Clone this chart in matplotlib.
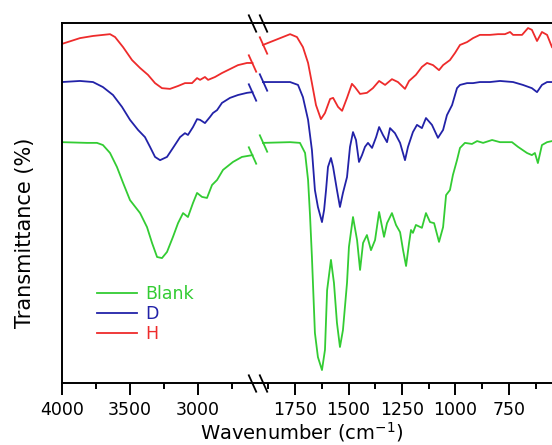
import matplotlib
matplotlib.use("Agg")
import matplotlib.pyplot as plt
from matplotlib.ticker import MultipleLocator, NullLocator

# ---------------- data (arbitrary transmittance units) ----------------
# high wavenumber segment (4000 - 2600 cm-1)
blank_wn_hi = [4000, 3816, 3743, 3699, 3647, 3596, 3551, 3500, 3426, 3375, 3338, 3301, 3265, 3228,
               3184, 3147, 3110, 3074, 3037, 3007, 2971, 2934, 2897, 2860, 2816, 2743, 2677, 2600]
blank_t_hi = [66.9, 66.7, 66.7, 66.1, 63.9, 60.0, 55.6, 50.8, 47.2, 43.3, 38.9, 35.0, 34.7, 36.4,
              40.6, 44.4, 47.2, 46.1, 50.0, 52.8, 51.7, 51.4, 55.0, 56.4, 59.2, 61.4, 62.8, 63.3]

d_wn_hi = [4000, 3868, 3772, 3699, 3625, 3559, 3500, 3441, 3390, 3353, 3316, 3279, 3228, 3184, 3132,
           3096, 3074, 3037, 3007, 2985, 2949, 2912, 2890, 2860, 2824, 2765, 2706, 2640, 2600]
d_t_hi = [83.6, 83.9, 83.6, 82.2, 80.0, 76.7, 73.1, 70.3, 68.3, 65.6, 62.8, 61.9, 62.8, 65.3, 68.3,
          69.4, 68.9, 71.1, 73.3, 73.1, 72.2, 73.9, 75.0, 75.8, 77.8, 79.2, 80.0, 80.6, 80.8]

h_wn_hi = [4000, 3868, 3772, 3647, 3610, 3551, 3485, 3426, 3368, 3316, 3265, 3206, 3147, 3096, 3044,
           3007, 2985, 2949, 2926, 2875, 2824, 2765, 2706, 2640, 2600]
h_t_hi = [94.2, 95.8, 96.4, 96.9, 96.1, 93.3, 89.7, 87.5, 85.6, 83.3, 81.9, 81.7, 82.5, 83.3, 83.3,
          84.7, 84.2, 85.0, 84.2, 85.0, 86.1, 87.2, 88.3, 88.9, 88.9]

# fingerprint segment (1900 - 550 cm-1)
blank_wn_lo = [1900, 1773, 1727, 1703, 1689, 1680, 1671, 1657, 1643, 1624, 1610, 1600, 1582, 1568,
               1554, 1540, 1526, 1507, 1498, 1479, 1460, 1446, 1432, 1414, 1395, 1376, 1357, 1334,
               1320, 1297, 1278, 1259, 1245, 1231, 1217, 1208, 1199, 1185, 1157, 1138, 1119, 1100,
               1077, 1058, 1044, 1026, 1012, 993, 979, 956, 923, 899, 871, 829, 792, 736, 708, 666,
               643, 629, 615, 596, 572, 549]
blank_t_lo = [66.7, 66.9, 66.7, 63.9, 56.4, 46.7, 35.0, 13.9, 7.2, 3.6, 9.2, 25.8, 34.2, 27.8,
              16.7, 10.0, 14.7, 27.8, 37.8, 46.1, 39.7, 31.4, 38.9, 41.1, 36.9, 39.7, 47.5, 40.6,
              44.4, 47.2, 43.9, 41.9, 36.9, 32.5, 38.9, 42.5, 41.7, 43.9, 43.1, 47.2, 44.7, 44.4,
              39.2, 43.3, 52.2, 53.6, 57.8, 61.9, 65.3, 66.7, 66.4, 67.2, 66.7, 67.5, 66.9, 66.9, 65.6, 63.9,
              63.3, 63.9, 61.1, 66.1, 66.9, 67.2]

d_wn_lo = [1900, 1773, 1736, 1713, 1689, 1671, 1657, 1643, 1624, 1614, 1605, 1596, 1582, 1572, 1554,
           1540, 1526, 1507, 1493, 1479, 1465, 1451, 1437, 1423, 1409, 1390, 1371, 1357, 1339, 1320,
           1306, 1283, 1259, 1236, 1222, 1199, 1180, 1157, 1138, 1110, 1082, 1058, 1040, 1016, 993,
           979, 946, 918, 886, 839, 792, 731, 685, 643, 619, 596, 572, 549]
d_t_lo = [83.6, 83.6, 82.8, 79.4, 73.1, 64.7, 53.6, 48.9, 44.7, 48.1, 53.6, 60.0, 62.5, 60.0, 53.6,
          48.9, 52.8, 57.2, 65.6, 69.7, 67.5, 61.4, 63.3, 65.6, 66.7, 65.3, 68.3, 71.1, 68.9, 66.9,
          70.8, 69.4, 66.7, 61.9, 65.6, 69.7, 71.7, 70.8, 73.6, 71.7, 68.1, 70.3, 74.4, 77.2, 81.9,
          82.8, 83.3, 83.3, 83.6, 83.6, 83.9, 83.6, 82.8, 81.9, 80.8, 82.8, 83.6, 83.6]

h_wn_lo = [1900, 1773, 1741, 1713, 1689, 1671, 1652, 1629, 1610, 1586, 1572, 1549, 1530, 1507, 1484,
           1470, 1446, 1414, 1386, 1357, 1329, 1297, 1269, 1236, 1217, 1185, 1157, 1133, 1105, 1077,
           1058, 1026, 1002, 979, 946, 918, 886, 839, 801, 769, 745, 731, 689, 661, 643, 619, 596,
           572, 549]
h_t_lo = [93.9, 96.9, 96.1, 93.3, 88.9, 83.3, 77.2, 73.3, 75.0, 78.9, 79.2, 76.7, 75.6, 79.2, 83.1,
          82.2, 80.3, 80.6, 81.9, 83.9, 82.8, 84.4, 83.6, 81.7, 83.9, 85.6, 87.8, 88.9, 88.3, 86.9,
          88.3, 89.7, 91.7, 93.9, 94.7, 95.8, 96.7, 96.7, 96.9, 96.9, 97.5, 96.7, 96.7, 98.6, 98.1,
          95.0, 97.5, 96.7, 93.3]

labels = ["Blank", "D", "H"]
colors = ["#33cc33", "#2222a8", "#ee2b2b"]

# ============================ Figure layout ============================
W, H = 552, 445
fig = plt.figure(figsize=(W / 100, H / 100), dpi=100)

# pixel positions of the frame in the reference
x0, xb, x1 = 62, 258, 552
y_top, y_bot = 23, 383
ax_hi = fig.add_axes([x0 / W, 1 - y_bot / H, (xb - x0) / W, (y_bot - y_top) / H])
ax_lo = fig.add_axes([xb / W, 1 - y_bot / H, (x1 - xb) / W, (y_bot - y_top) / H])

hi_series = [(blank_wn_hi, blank_t_hi), (d_wn_hi, d_t_hi), (h_wn_hi, h_t_hi)]
lo_series = [(blank_wn_lo, blank_t_lo), (d_wn_lo, d_t_lo), (h_wn_lo, h_t_lo)]

# slanted "\" glyph used for the break caps
brk = [(-0.45, 1), (0.45, -1)]

for (wn, t), c, lab in zip(hi_series, colors, labels):
    ax_hi.plot(wn, t, color=c, lw=1.3, label=lab, solid_joinstyle="round")
    ax_hi.plot(wn[-1:], t[-1:], ls="none", marker=brk, ms=13, mec=c, mew=1.3)
for (wn, t), c in zip(lo_series, colors):
    ax_lo.plot(wn, t, color=c, lw=1.3, solid_joinstyle="round")
    ax_lo.plot(wn[:1], t[:1], ls="none", marker=brk, ms=13, mec=c, mew=1.3)

ax_hi.set_xlim(4000, 2559)
ax_lo.set_xlim(1923, 549)

for ax in (ax_hi, ax_lo):
    ax.set_ylim(0, 100)
    ax.yaxis.set_major_locator(NullLocator())
    ax.spines["right"].set_visible(False)
    for s in ("top", "bottom", "left"):
        ax.spines[s].set_linewidth(1.4)
    ax.tick_params(axis="x", which="major", direction="out", length=8.5, width=1.4,
                   pad=4.5, labelsize=12.5)
    ax.tick_params(axis="x", which="minor", direction="out", length=4.3, width=1.4)
    ax.tick_params(axis="y", which="both", length=0)
ax_lo.spines["left"].set_visible(False)

ax_hi.xaxis.set_major_locator(MultipleLocator(500))
ax_hi.xaxis.set_minor_locator(MultipleLocator(250))
ax_lo.xaxis.set_major_locator(MultipleLocator(250))
ax_lo.xaxis.set_minor_locator(MultipleLocator(125))

# axis break marks on top and bottom frame lines
for ax, wn_break in ((ax_hi, h_wn_hi[-1]), (ax_lo, h_wn_lo[0])):
    ax.plot([wn_break, wn_break], [0, 1], transform=ax.get_xaxis_transform(), ls="none",
            marker=brk, ms=13, mec="black", mew=1.3, clip_on=False)

# legend
leg = ax_hi.legend(loc="upper left", bbox_to_anchor=(0.18, 0.272), frameon=False,
                   fontsize=12.5, handlelength=2.3, handletextpad=0.45, labelspacing=0.12,
                   borderpad=0, borderaxespad=0, labelcolor="linecolor")

# axis titles
fig.text(302 / W, 1 - 439 / H, "Wavenumber (cm$^{-1}$)", ha="center", va="baseline", fontsize=14)
fig.text(25 / W, 1 - 233 / H, "Transmittance (%)", ha="center", va="center", rotation=90,
         fontsize=15)

fig.savefig("out.png", dpi=100)
